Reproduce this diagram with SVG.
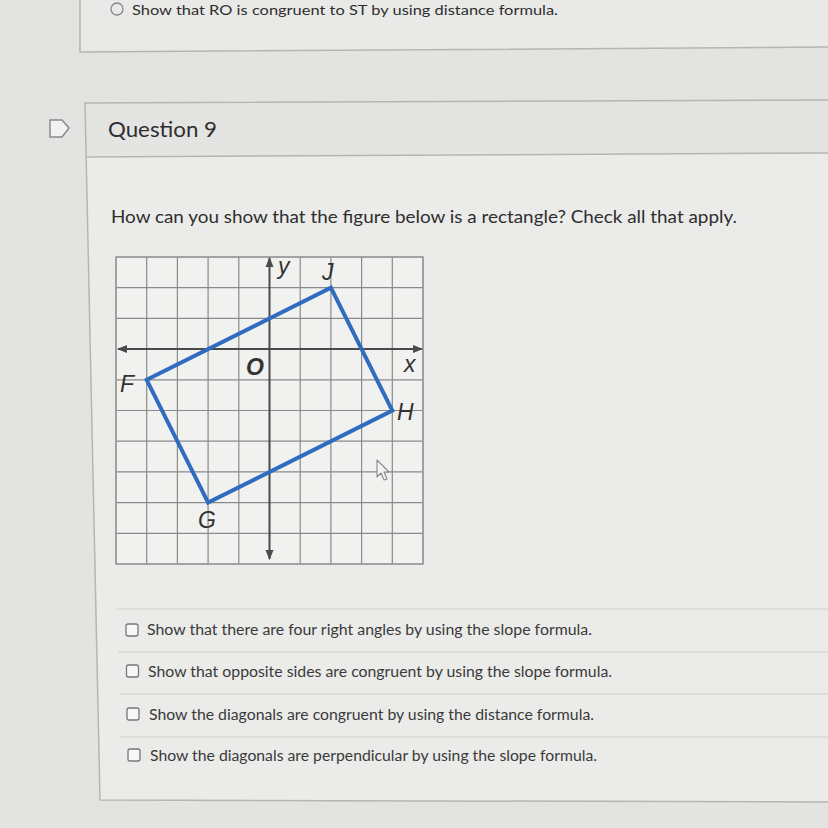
<svg xmlns="http://www.w3.org/2000/svg" width="828" height="828" viewBox="0 0 828 828">
<defs>
<style>
.ui{font-family:Lato,"Open Sans","Liberation Sans",sans-serif;fill:#2e2e2e}
.opt{font-family:Lato,"Open Sans","Liberation Sans",sans-serif;font-size:14.6px;fill:#3a3a3a}
.lbl{font-family:"Liberation Sans",Arial,sans-serif;font-style:italic;font-size:23px;fill:#333}
.grid{stroke:#8a8a8a;stroke-width:1.2;fill:none}
.axis{stroke:#4a4a4a;stroke-width:2;fill:none}
.box{fill:#f7f7f6;stroke:#777;stroke-width:1.3}
.sep{stroke:#cfcfcd;stroke-width:1.2}
.border{stroke:#b5b5b3;stroke-width:1.5;fill:none}
</style>
<marker id="ah" viewBox="0 0 10 10" refX="9" refY="5" markerWidth="5" markerHeight="5" orient="auto-start-reverse" markerUnits="strokeWidth">
<path d="M0,1 L10,5 L0,9 Z" fill="#4a4a4a"/>
</marker>
</defs>
<rect width="828" height="828" fill="#e3e3e1"/>
<g id="prev-panel">
<polygon points="80,0 828,0 828,47 80,52" fill="#e9e9e7"/>
<path class="border" d="M80,0 L80,52 L828,47"/>
<circle cx="117" cy="9" r="6" fill="none" stroke="#888" stroke-width="1.3"/>
<text class="ui" x="132" y="15" font-size="14" fill="#555" textLength="426" lengthAdjust="spacingAndGlyphs">Show that RO is congruent to ST by using distance formula.</text>
</g>
<g id="question-panel">
<polygon points="85,103 828,100 828,802 100,800" fill="#ebebe9"/>
<polygon points="85,103 828,100 828,153 86,157" fill="#e4e4e2"/>
<path class="border" d="M828,100 L85,103 L100,800 L828,802"/>
<path class="border" d="M86,157 L828,153"/>
<path d="M50,120 L62,120 L69,128 L62,137 L50,137 Z" fill="#f2f2f0" stroke="#8a8a8a" stroke-width="1.5"/>
<text class="ui" x="108" y="137" font-size="21.5" textLength="109" lengthAdjust="spacingAndGlyphs">Question 9</text>
<text class="ui" x="111" y="223" font-size="17" textLength="626" lengthAdjust="spacingAndGlyphs">How can you show that the figure below is a rectangle?  Check all that apply.</text>
</g>
<g id="graph">
<rect x="116" y="257" width="307" height="307" fill="#f1f1f0"/>
<g class="grid">
<path d="M116,257V564M146.7,257V564M177.4,257V564M208.1,257V564M238.8,257V564M300.2,257V564M330.9,257V564M361.6,257V564M392.3,257V564M423,257V564"/>
<path d="M116,257H423M116,287.7H423M116,318.4H423M116,379.8H423M116,410.5H423M116,441.2H423M116,471.9H423M116,502.6H423M116,533.3H423M116,564H423"/>
</g>
<rect x="116" y="257" width="307" height="307" fill="none" stroke="#9a9a9a" stroke-width="1.5"/>
<g id="connectors">
<line class="axis" x1="118" y1="349.1" x2="422" y2="349.1" marker-start="url(#ah)" marker-end="url(#ah)"/>
<line class="axis" x1="269.5" y1="258" x2="269.5" y2="559" marker-start="url(#ah)" marker-end="url(#ah)"/>
<polygon points="146.7,379.8 330.9,287.7 392.3,410.5 208.1,502.6" fill="none" stroke="#2f6cc0" stroke-width="4" stroke-linejoin="miter"/>
</g>
<text class="lbl" x="278" y="274" font-size="21">y</text>
<text class="lbl" x="322" y="280">J</text>
<text class="lbl" x="246" y="375" font-size="22" font-weight="bold">O</text>
<text class="lbl" x="404" y="372" font-size="20">x</text>
<text class="lbl" x="120" y="392">F</text>
<text class="lbl" x="397" y="420">H</text>
<text class="lbl" x="198" y="528">G</text>
<path d="M377,460 L377,477 L381,473 L384,480 L387,479 L384,472 L389,472 Z" fill="#f2f2f2" stroke="#888" stroke-width="1.1" stroke-linejoin="round"/>
</g>
<g id="options">
<line class="sep" x1="117" y1="609" x2="828" y2="609"/>
<line class="sep" x1="118" y1="652" x2="828" y2="652"/>
<line class="sep" x1="119" y1="694" x2="828" y2="694"/>
<line class="sep" x1="120" y1="737" x2="828" y2="737"/>
<g id="opt1"><rect class="box" x="126" y="624" width="12" height="12" rx="2"/><text class="opt" x="147" y="635" textLength="445" lengthAdjust="spacingAndGlyphs">Show that there are four right angles by using the slope formula.</text></g>
<g id="opt2"><rect class="box" x="126.5" y="665" width="12" height="12" rx="2"/><text class="opt" x="148" y="677" textLength="464" lengthAdjust="spacingAndGlyphs">Show that opposite sides are congruent by using the slope formula.</text></g>
<g id="opt3"><rect class="box" x="127" y="708" width="12" height="12" rx="2"/><text class="opt" x="149" y="720" textLength="445" lengthAdjust="spacingAndGlyphs">Show the diagonals are congruent by using the distance formula.</text></g>
<g id="opt4"><rect class="box" x="128" y="749" width="12" height="12" rx="2"/><text class="opt" x="150" y="761" textLength="447" lengthAdjust="spacingAndGlyphs">Show the diagonals are perpendicular by using the slope formula.</text></g>
</g>
</svg>
